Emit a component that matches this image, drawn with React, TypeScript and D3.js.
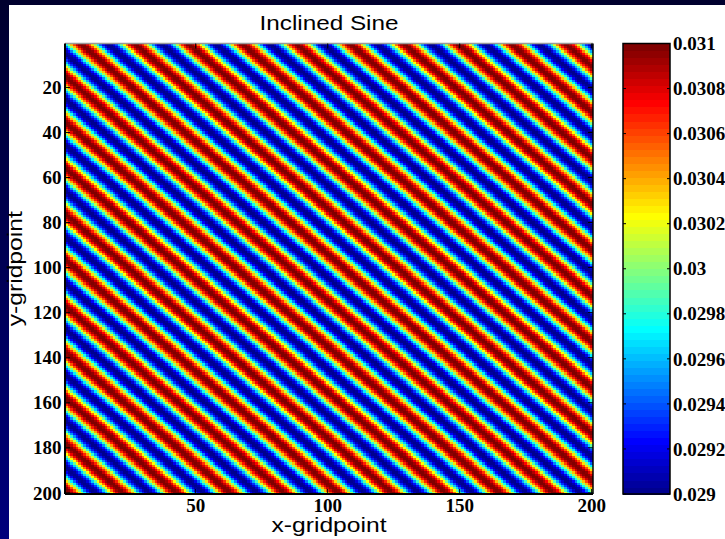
import React, { useEffect, useRef } from "react";
import * as d3 from "d3";

// ---- data ----
const TITLE = "Inclined Sine";
const X_LABEL = "x-gridpoint";
const Y_LABEL = "y-gridpoint";
const NX = 200;
const NY = 200;
const MEAN = 0.03;
const AMPLITUDE = 0.001;
const WAVELENGTH = 20.4; // grid points along (x - y)
const PHASE = -0.25;
const C_MIN = 0.029;
const C_MAX = 0.031;
const X_TICKS = [50, 100, 150, 200];
const Y_TICKS = [20, 40, 60, 80, 100, 120, 140, 160, 180, 200];
const CB_TICKS = [0.029, 0.0292, 0.0294, 0.0296, 0.0298, 0.03, 0.0302, 0.0304, 0.0306, 0.0308, 0.031];
const CB_LABELS = ["0.029", "0.0292", "0.0294", "0.0296", "0.0298", "0.03", "0.0302", "0.0304", "0.0306", "0.0308", "0.031"];

type Cell = { i: number; j: number; v: number };
const CELLS: Cell[] = [];
for (let j = 1; j <= NY; j++) {
  for (let i = 1; i <= NX; i++) {
    CELLS.push({ i, j, v: MEAN + AMPLITUDE * Math.sin((2 * Math.PI * (i - j)) / WAVELENGTH + PHASE) });
  }
}

function jet(n: number): string[] {
  const m = Math.ceil(n / 4);
  const u: number[] = [];
  for (let k = 1; k <= m; k++) u.push(k / m);
  for (let k = 1; k <= m - 1; k++) u.push(1);
  for (let k = m; k >= 1; k--) u.push(k / m);
  const off = Math.ceil(m / 2) - (n % 4 === 1 ? 1 : 0);
  const J = Array.from({ length: n }, () => [0, 0, 0]);
  u.forEach((val, k) => {
    const g = off + k + 1;
    const r = g + m;
    const b = g - m;
    if (r <= n) J[r - 1][0] = val;
    if (g <= n) J[g - 1][1] = val;
    if (b >= 1) J[b - 1][2] = val;
  });
  return J.map((c) => d3.rgb(c[0] * 255, c[1] * 255, c[2] * 255).formatHex());
}
const JET = jet(64);

// ---- layout ----
const W = 725;
const H = 539;
const PL = 65, PR = 593, PT = 43.5, PB = 494;
const CBL = 623, CBR = 670;

export default function App() {
  const gRef = useRef<SVGGElement>(null);
  const x = d3.scaleLinear().domain([0.5, NX + 0.5]).range([PL, PR]);
  const y = d3.scaleLinear().domain([0.5, NY + 0.5]).range([PT, PB]);
  const color = d3.scaleQuantize<string>().domain([C_MIN, C_MAX]).range(JET);
  const cy = d3.scaleLinear().domain([C_MIN, C_MAX]).range([PB, PT]);
  const cw = x(2) - x(1);
  const ch = y(2) - y(1);

  useEffect(() => {
    const g = d3.select(gRef.current);
    g.selectAll("rect")
      .data(CELLS)
      .join("rect")
      .attr("x", (d) => x(d.i - 0.5))
      .attr("y", (d) => y(d.j - 0.5))
      .attr("width", cw + 0.6)
      .attr("height", ch + 0.6)
      .attr("fill", (d) => color(d.v));
  }, []);

  const step = (C_MAX - C_MIN) / JET.length;
  const tickLen = 5;
  const serif = "'Liberation Serif', 'Times New Roman', serif";
  const sans = "'Liberation Sans', Arial, Helvetica, sans-serif";

  return (
    <svg width={W} height={H} style={{ position: "absolute", left: 0, top: 0, display: "block" }}>
      <defs>
        <linearGradient id="bg" x1="0" y1="0" x2="0" y2="1">
          <stop offset="0" stopColor="#00002e" />
          <stop offset="1" stopColor="#00007c" />
        </linearGradient>
        <clipPath id="plotClip">
          <rect x={PL} y={PT} width={PR - PL} height={PB - PT} />
        </clipPath>
      </defs>
      <rect x={0} y={0} width={W} height={H} fill="url(#bg)" />
      <rect x={9} y={5} width={W - 9} height={H - 5} fill="#ffffff" />

      <text x={(PL + PR) / 2} y={29.5} textAnchor="middle" fontFamily={sans} fontSize={20}
        textLength={139} lengthAdjust="spacingAndGlyphs" fill="#000">
        {TITLE}
      </text>

      <g ref={gRef} clipPath="url(#plotClip)" shapeRendering="crispEdges" />

      {/* axes box */}
      <line x1={PL} y1={PT} x2={PR} y2={PT} stroke="#999" strokeWidth={1.5} />
      <line x1={PL} y1={PT} x2={PL} y2={PB} stroke="#000" strokeWidth={2} />
      <line x1={PL} y1={PB} x2={PR} y2={PB} stroke="#000" strokeWidth={2} />
      <line x1={PR} y1={PT} x2={PR} y2={PB} stroke="#000" strokeWidth={1.5} />

      {Y_TICKS.map((t) => (
        <g key={"y" + t}>
          <line x1={PL} x2={PL + tickLen} y1={y(t)} y2={y(t)} stroke="#000" strokeWidth={1} />
          <line x1={PR} x2={PR - tickLen} y1={y(t)} y2={y(t)} stroke="#000" strokeWidth={1} />
          <text x={PL - 3.5} y={y(t)} dy="0.35em" textAnchor="end" fontFamily={serif} fontWeight="bold" fontSize={19} fill="#000">
            {t}
          </text>
        </g>
      ))}
      {X_TICKS.map((t) => (
        <g key={"x" + t}>
          <line x1={x(t)} x2={x(t)} y1={PB} y2={PB - tickLen} stroke="#000" strokeWidth={1} />
          <line x1={x(t)} x2={x(t)} y1={PT} y2={PT + tickLen} stroke="#000" strokeWidth={1} />
          <text x={x(t)} y={512} textAnchor="middle" fontFamily={serif} fontWeight="bold" fontSize={19} fill="#000">
            {t}
          </text>
        </g>
      ))}

      <text x={(PL + PR) / 2} y={532} textAnchor="middle" fontFamily={sans} fontSize={20}
        textLength={115} lengthAdjust="spacingAndGlyphs" fill="#000">
        {X_LABEL}
      </text>
      <text
        transform={`translate(22, ${(PT + PB) / 2}) rotate(-90)`}
        textAnchor="middle"
        fontFamily={sans}
        fontSize={20}
        textLength={115}
        lengthAdjust="spacingAndGlyphs"
        fill="#000"
      >
        {Y_LABEL}
      </text>

      {/* colorbar */}
      <g shapeRendering="crispEdges">
        {JET.map((c, k) => (
          <rect
            key={"cb" + k}
            x={CBL}
            width={CBR - CBL}
            y={cy(C_MIN + (k + 1) * step)}
            height={cy(C_MIN + k * step) - cy(C_MIN + (k + 1) * step) + 0.6}
            fill={c}
          />
        ))}
      </g>
      <rect x={CBL} y={PT} width={CBR - CBL} height={PB - PT} fill="none" stroke="#000" strokeWidth={1.5} />
      {CB_TICKS.map((t, k) => (
        <g key={"cbt" + k}>
          <line x1={CBL} x2={CBL + 3} y1={cy(t)} y2={cy(t)} stroke="#000" strokeWidth={1} />
          <line x1={CBR} x2={CBR - 3} y1={cy(t)} y2={cy(t)} stroke="#000" strokeWidth={1} />
          <text x={CBR + 3} y={cy(t)} dy="0.35em" fontFamily={serif} fontWeight="bold" fontSize={19} fill="#000">
            {CB_LABELS[k]}
          </text>
        </g>
      ))}
    </svg>
  );
}
